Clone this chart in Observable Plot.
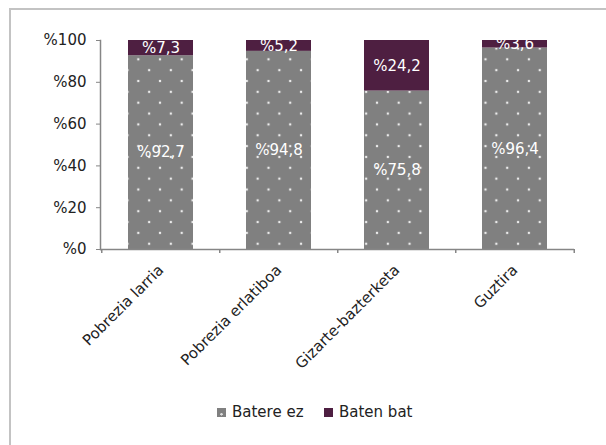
<!DOCTYPE html>
<html>
<head>
<meta charset="utf-8">
<script src="https://cdn.jsdelivr.net/npm/d3@7"></script>
<script src="https://cdn.jsdelivr.net/npm/@observablehq/plot@0.6"></script>
<style>
  html, body { margin: 0; padding: 0; background: #fff; overflow: hidden; }
  body { width: 606px; height: 445px; position: relative; font-family: "DejaVu Sans", Verdana, sans-serif; }
  #frame { position: absolute; left: 9px; top: 8px; width: 640px; height: 480px; border: 2px solid #c3c3c3; box-sizing: border-box; pointer-events: none; }
  #chart { position: absolute; left: 0; top: 0; }
  #legend { position: absolute; left: 0; top: 402px; width: 606px; height: 20px; }
  .item { position: absolute; top: 0; font-size: 15px; color: #222; white-space: nowrap; line-height: 20px; }
  .sw { position: absolute; top: 6px; width: 9px; height: 9px; }
</style>
</head>
<body>
<svg width="0" height="0" style="position:absolute">
  <defs>
    <pattern id="dots" patternUnits="userSpaceOnUse" width="21.7" height="21.7" x="8.1" y="15.9">
      <rect x="-1.1" y="-1.1" width="2.2" height="2.2" fill="#ececec"/>
      <rect x="20.6" y="-1.1" width="2.2" height="2.2" fill="#ececec"/>
      <rect x="-1.1" y="20.6" width="2.2" height="2.2" fill="#ececec"/>
      <rect x="20.6" y="20.6" width="2.2" height="2.2" fill="#ececec"/>
      <rect x="9.75" y="9.75" width="2.2" height="2.2" fill="#ececec"/>
    </pattern>
  </defs>
</svg>
<div id="chart"></div>
<div id="legend"></div>
<div id="frame"></div>
<script>
const categories = ["Pobrezia larria", "Pobrezia erlatiboa", "Gizarte-bazterketa", "Guztira"];
const series = ["Batere ez", "Baten bat"];
const batereEz = [92.7, 94.8, 75.8, 96.4];
const batenBat = [7.3, 5.2, 24.2, 3.6];
const yTicks = [0, 20, 40, 60, 80, 100];
const seriesColors = ["#808080", "#4e1f41"];

// stacked rows built from the arrays (bottom segment first)
const values = [batereEz, batenBat];
const rows = [];
categories.forEach((c, ci) => {
  let base = 0;
  series.forEach((s, si) => {
    const v = values[si][ci];
    rows.push({category: c, series: s, value: v, y1: base, y2: base + v, ym: base + v / 2});
    base += v;
  });
});
const lowerRows = rows.filter(d => d.series === series[0]);
const upperRows = rows.filter(d => d.series === series[1]);

const W = 606, H = 390, ML = 100, MR = 32, MT = 40, MB = 141;
const step = (W - ML - MR) / categories.length;
const fmt = v => "%" + String(v).replace(".", ",");
const axisColor = "#868686";

const chart = Plot.plot({
  width: W, height: H,
  marginLeft: ML, marginRight: MR, marginTop: MT, marginBottom: MB,
  style: {fontFamily: "DejaVu Sans, Verdana, sans-serif", fontSize: "15px", background: "transparent", color: "#222"},
  x: {domain: categories, paddingInner: 0.45, paddingOuter: 0.225, label: null},
  y: {domain: [0, 100], label: null},
  marks: [
    Plot.barY(lowerRows, {x: "category", y1: "y1", y2: "y2", fill: seriesColors[0]}),
    Plot.barY(lowerRows, {x: "category", y1: "y1", y2: "y2", fill: "url(#dots)"}),
    Plot.barY(upperRows, {x: "category", y1: "y1", y2: "y2", fill: seriesColors[1]}),
    Plot.text(rows, {x: "category", y: "ym", text: d => fmt(d.value), fill: "white", fontSize: 15}),
    Plot.ruleY([0], {stroke: axisColor, strokeWidth: 1.5}),
    Plot.ruleX(categories, {x: d => d, y1: 0, y2: 0, insetBottom: -4, dx: -step / 2, stroke: axisColor, strokeWidth: 1.5}),
    Plot.ruleX(categories.slice(-1), {x: d => d, y1: 0, y2: 0, insetBottom: -4, dx: step / 2, stroke: axisColor, strokeWidth: 1.5}),
    Plot.frame({anchor: "left", stroke: axisColor, strokeWidth: 1.5}),
    Plot.axisY({ticks: yTicks, tickFormat: d => "%" + d, tickSize: 4, tickPadding: 10, stroke: axisColor, fill: "#222", fontSize: 15}),
    Plot.axisX({tickRotate: -45, tickSize: 0, tickPadding: 18, fill: "#222", fontSize: 15})
  ]
});
document.getElementById("chart").appendChild(chart);

// legend
const legend = document.getElementById("legend");
const legendX = [217, 324];
series.forEach((s, i) => {
  const sw = document.createElement("div");
  sw.className = "sw";
  sw.style.left = legendX[i] + "px";
  sw.style.background = i === 0 ? "radial-gradient(circle at 50% 70%, #dcdcdc 0 1px, #808080 1.5px)" : seriesColors[1];
  legend.appendChild(sw);
  const t = document.createElement("div");
  t.className = "item";
  t.style.left = (legendX[i] + 15) + "px";
  t.textContent = s;
  legend.appendChild(t);
});
</script>
</body>
</html>
